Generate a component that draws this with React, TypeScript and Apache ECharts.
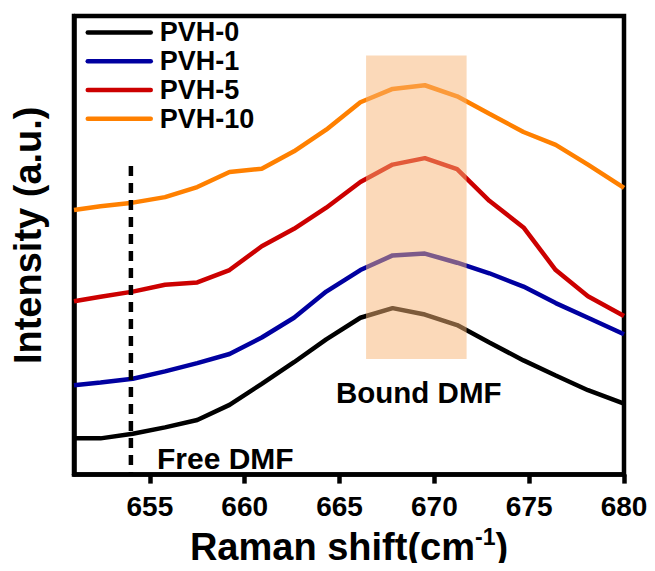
import { useEffect, useRef } from "react";
import * as echarts from "echarts";

// Raman shift positions (cm-1) shared by all spectra
const ramanShift = [651.0, 652.4, 654.1, 655.8, 657.5, 659.2, 660.9, 662.6, 664.3, 666.1, 667.8, 669.5, 671.2, 672.9, 674.7, 676.4, 678.1, 680.0];

// Offset intensities (a.u.) for each sample
const pvh0 = [7.9, 7.9, 8.9, 10.3, 11.9, 15.2, 19.8, 24.5, 29.5, 34.2, 36.3, 34.9, 32.6, 28.8, 24.9, 21.6, 18.4, 15.5];
const pvh1 = [19.5, 20.1, 20.9, 22.5, 24.3, 26.3, 29.9, 34.2, 39.9, 44.6, 47.8, 48.2, 46.2, 43.9, 41.0, 37.4, 34.2, 30.6];
const pvh5 = [37.8, 38.8, 39.9, 41.4, 41.9, 44.6, 49.8, 53.6, 58.2, 63.8, 67.6, 69.0, 66.6, 59.7, 53.9, 44.6, 38.9, 34.6];
const pvh10 = [57.7, 58.5, 59.3, 60.5, 62.7, 66.0, 66.7, 70.5, 75.2, 81.2, 84.1, 84.9, 82.5, 78.7, 74.7, 71.9, 67.6, 62.5];

const seriesNames = ["PVH-0", "PVH-1", "PVH-5", "PVH-10"];
const seriesColors = ["#000000", "#0000a0", "#cc0000", "#ff8000"];
const seriesValues = [pvh0, pvh1, pvh5, pvh10];

const xTicks = [655, 660, 665, 670, 675, 680];

// Bound DMF band: shift range and intensity range
const boundBandShift = [666.4, 671.7];
const boundBandIntensity = [25.2, 91.4];

// Free DMF marker: shift position and intensity extent
const freeDmfShift = [654.0];
const freeDmfIntensity = [0, 67.3];

const FONT = 'Arial, "Liberation Sans", Helvetica, sans-serif';

export default function App() {
  const ref = useRef<HTMLDivElement>(null);

  useEffect(() => {
    if (!ref.current) return;
    const chart = echarts.init(ref.current, undefined, { renderer: "svg" });

    const lineSeries = seriesNames.map((name, i) => ({
      name,
      type: "line",
      data: ramanShift.map((x, j) => [x, seriesValues[i][j]]),
      symbol: "none",
      showSymbol: false,
      lineStyle: { color: seriesColors[i], width: 4.5 },
      itemStyle: { color: seriesColors[i] },
      z: 2,
    }));

    chart.setOption({
      animation: false,
      backgroundColor: "#ffffff",
      grid: {
        left: 74,
        right: 31,
        top: 16,
        bottom: 90.5,
        show: true,
        borderColor: "#000",
        borderWidth: 4.5,
        backgroundColor: "transparent",
      },
      legend: {
        data: seriesNames,
        orient: "vertical",
        left: 85.5,
        top: 18,
        padding: 0,
        itemGap: 0,
        itemWidth: 63,
        itemHeight: 36,
        itemStyle: { opacity: 0 },
        lineStyle: { width: 4.5, cap: "round" },
        textStyle: {
          fontFamily: FONT,
          fontWeight: "bold",
          fontSize: 27,
          color: "#000",
          padding: [0, 0, 0, 4],
        },
        selectedMode: false,
      },
      xAxis: {
        type: "value",
        min: 651,
        max: 680,
        name: "{b|Raman shift(cm}{s|-1}{b|)}",
        nameLocation: "middle",
        nameGap: 47,
        nameTextStyle: {
          rich: {
            b: { fontFamily: FONT, fontWeight: "bold", fontSize: 38, color: "#000" },
            s: { fontFamily: FONT, fontWeight: "bold", fontSize: 23, color: "#000", padding: [0, 0, 20, 0] },
          },
        },
        axisLine: { lineStyle: { color: "#000", width: 4.5 } },
        axisTick: {
          show: true,
          inside: false,
          length: 9,
          lineStyle: { color: "#000", width: 4.5 },
          customValues: xTicks,
        },
        axisLabel: {
          customValues: xTicks,
          fontFamily: FONT,
          fontWeight: "bold",
          fontSize: 28,
          color: "#000",
          margin: 18,
        },
        splitLine: { show: false },
      },
      yAxis: {
        type: "value",
        min: 0,
        max: 100,
        name: "Intensity (a.u.)",
        nameLocation: "middle",
        nameGap: 27,
        nameTextStyle: {
          fontFamily: FONT,
          fontWeight: "bold",
          fontSize: 38,
          color: "#000",
          padding: [0, 0, 0, 20],
        },
        axisLine: { show: true, lineStyle: { color: "#000", width: 4.5 } },
        axisTick: { show: false },
        axisLabel: { show: false },
        splitLine: { show: false },
      },
      series: [
        ...lineSeries,
        {
          name: "Free DMF marker",
          type: "custom",
          silent: true,
          z: 4,
          data: [[freeDmfShift[0], freeDmfIntensity[0], freeDmfIntensity[1]]],
          encode: { x: 0, y: [1, 2] },
          renderItem: (_p: any, api: any) => {
            const top = api.coord([api.value(0), api.value(2)]);
            const bottom = api.coord([api.value(0), api.value(1)]);
            return {
              type: "line",
              shape: { x1: top[0], y1: top[1], x2: bottom[0], y2: bottom[1] },
              style: { stroke: "#000", lineWidth: 4.5, lineDash: [10, 7] },
            };
          },
        },
        {
          name: "Bound DMF band",
          type: "custom",
          silent: true,
          z: 5,
          data: [[boundBandShift[0], boundBandShift[1], boundBandIntensity[0], boundBandIntensity[1]]],
          encode: { x: [0, 1], y: [2, 3] },
          renderItem: (_p: any, api: any) => {
            const p0 = api.coord([api.value(0), api.value(3)]);
            const p1 = api.coord([api.value(1), api.value(2)]);
            return {
              type: "rect",
              shape: { x: p0[0], y: p0[1], width: p1[0] - p0[0], height: p1[1] - p0[1] },
              style: { fill: "rgba(247,180,116,0.5)" },
            };
          },
        },
      ],
      graphic: [
        {
          type: "text",
          x: 157,
          y: 458,
          style: {
            text: "Free DMF",
            fontFamily: FONT,
            fontWeight: "bold",
            fontSize: 30,
            fill: "#000",
            verticalAlign: "middle",
          },
          z: 10,
        },
        {
          type: "text",
          x: 336,
          y: 392,
          style: {
            text: "Bound DMF",
            fontFamily: FONT,
            fontWeight: "bold",
            fontSize: 29.5,
            fill: "#000",
            verticalAlign: "middle",
          },
          z: 10,
        },
      ],
    });

    return () => chart.dispose();
  }, []);

  return <div ref={ref} style={{ width: 655, height: 571, margin: -8 }} />;
}
